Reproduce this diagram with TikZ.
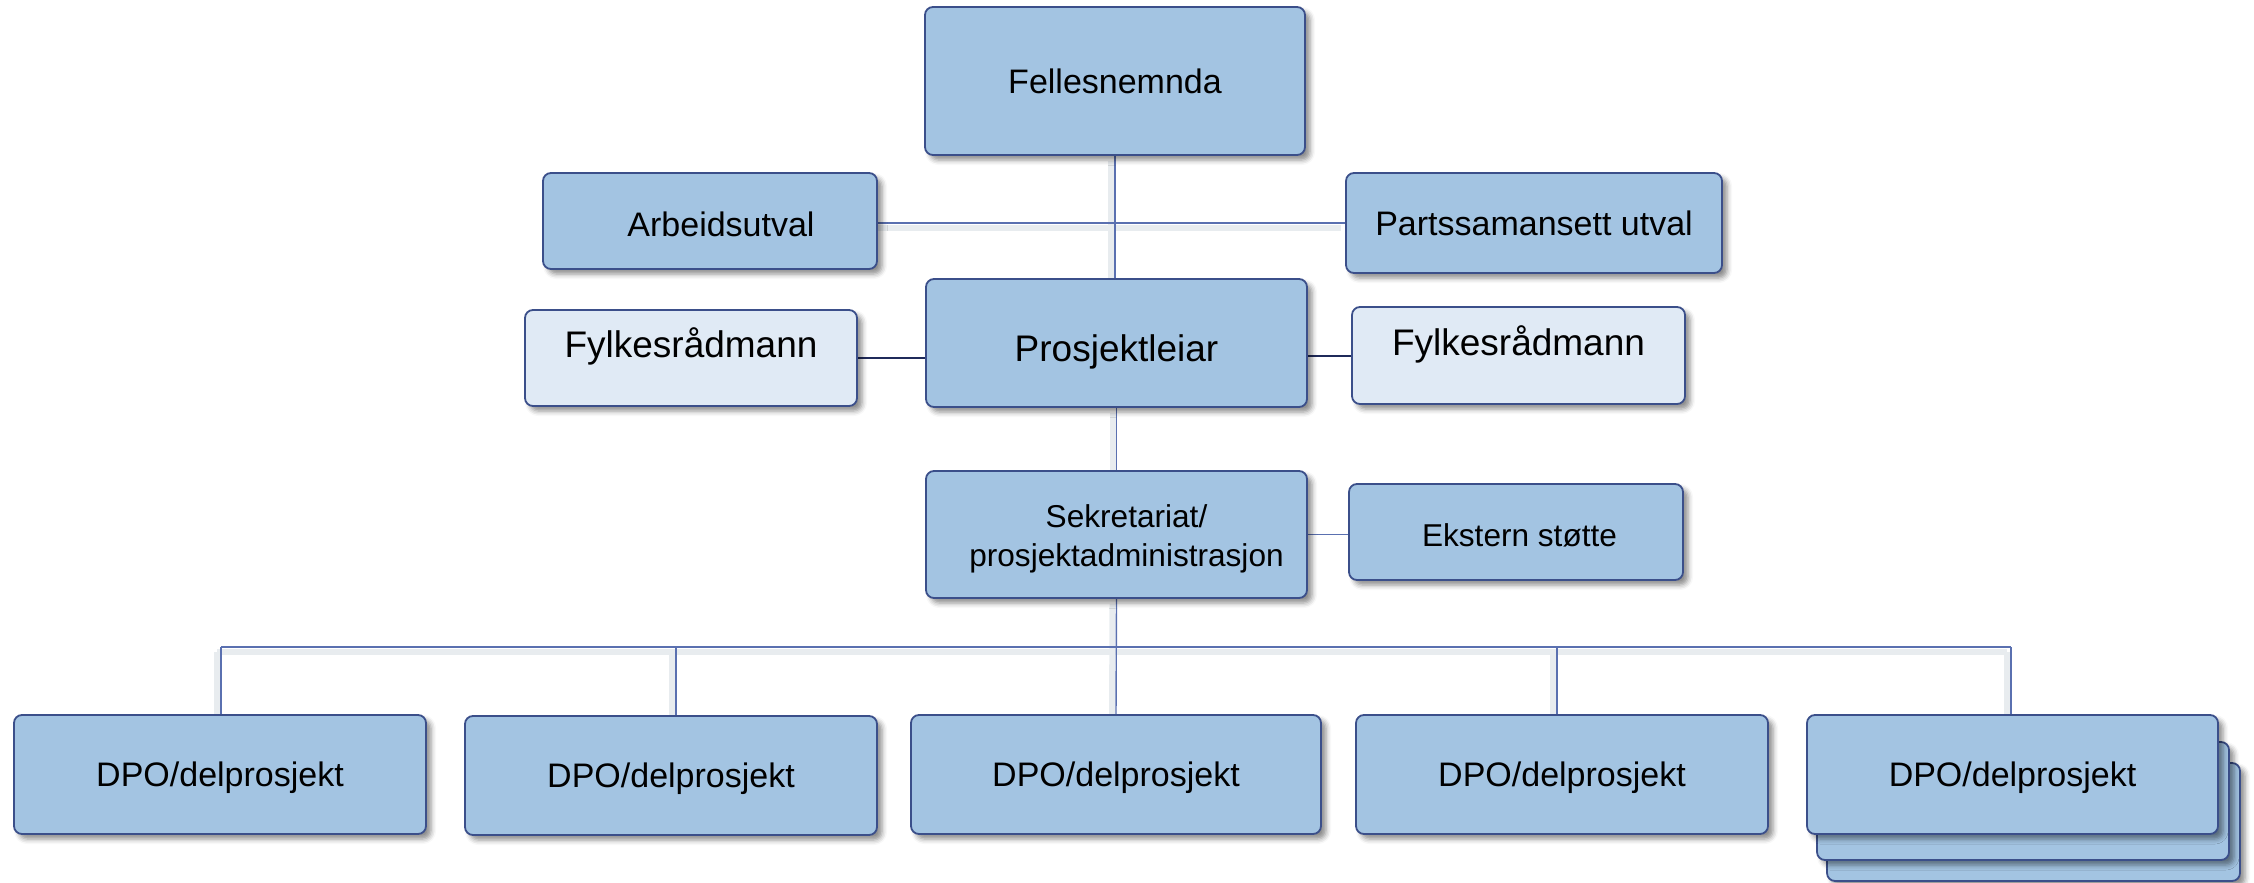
\documentclass[tikz,border=0pt]{standalone}
\usepackage{fontspec}
\setmainfont{Liberation Sans}
\usetikzlibrary{shadows.blur,backgrounds}
\definecolor{boxfill}{HTML}{A3C4E2}
\definecolor{lightfill}{HTML}{E0EAF5}
\definecolor{boxline}{HTML}{3B4F8A}
\definecolor{conn}{HTML}{5A70B0}
\definecolor{darkconn}{HTML}{1F2A5A}
\definecolor{lshad}{HTML}{E8ECEF}
\tikzset{
  box/.style={draw=boxline, fill=boxfill, line width=0.9pt, rounded corners=4pt, inner sep=0pt,
    blur shadow={shadow xshift=2.5pt, shadow yshift=-2.5pt, shadow blur radius=2.5pt, shadow opacity=45}},
  lightbox/.style={box, fill=lightfill},
  sz/.style 2 args={minimum width=#1*0.5pt, minimum height=#2*0.5pt},
  fA/.style={font=\fontsize{17pt}{20.4pt}\selectfont, text height=12.2pt, text depth=0pt},
  fC/.style={font=\fontsize{18.5pt}{22.2pt}\selectfont, text height=13.2pt, text depth=0pt},
  fD/.style={font=\fontsize{15.8pt}{19.5pt}\selectfont, text height=11.3pt, text depth=0pt},
  cline/.style={draw=conn, line width=0.7pt},
  dline/.style={draw=darkconn, line width=1pt},
  lsh/.style={draw=lshad, line width=3pt, transform canvas={shift={(-2pt,-2.5pt)}}}
}
\begin{document}
\begin{tikzpicture}[x=0.5pt,y=-0.5pt]
\useasboundingbox (0,0) rectangle (2254,883);

% boxes
\node[box,fA,sz={380}{148}] (fel) at (1115,81) {Fellesnemnda};
\node[box,fA,sz={334}{96}] (arb) at (710,221) {\hspace*{11pt}\raisebox{-1.8pt}{Arbeidsutval}};
\node[box,fA,sz={376}{100}] (par) at (1534,223) {Partssamansett utval};
\node[lightbox,fC,sz={332}{96}] (fyl1) at (691,358) {\raisebox{7pt}{Fylkesrådmann}};
\node[box,fC,sz={381}{128}] (pro) at (1116.5,343) {\raisebox{-2.75pt}{Prosjektleiar}};
\node[lightbox,fC,sz={333}{97}] (fyl2) at (1518.5,355.5) {\raisebox{6.75pt}{Fylkesrådmann}};
\node[box,fD,align=center,text height=31.5pt,text depth=0pt,sz={381}{127}] (sek) at (1116.5,534.5)
  {\hspace*{10pt}Sekretariat/\\\hspace*{10pt}prosjektadministrasjon};
\node[box,fD,sz={334}{96}] (eks) at (1516,532) {\hspace*{3.5pt}\raisebox{-1.75pt}{Ekstern støtte}};

\node[box,fA,sz={412}{119}] (d1) at (220,774.5) {DPO/delprosjekt};
\node[box,fA,sz={412}{119}] (d2) at (671,775.5) {DPO/delprosjekt};
\node[box,fA,sz={410}{119}] (d3) at (1116,774.5) {DPO/delprosjekt};
\node[box,fA,sz={412}{119}] (d4) at (1562,774.5) {DPO/delprosjekt};
\node[box,sz={413}{118}] (d5c) at (2033.5,822) {};
\node[box,sz={412}{118}] (d5b) at (2023,801) {};
\node[box,fA,sz={411}{119}] (d5) at (2012.5,774.5) {DPO/delprosjekt};

\coordinate (b1) at (221,647);
\coordinate (b2) at (676,647);
\coordinate (b4) at (1557,647);
\coordinate (b5) at (2011,647);

\begin{scope}[on background layer]
  % soft shadows of the connectors
  \draw[lsh] (fel.south) -- (fel.south |- pro.north);
  \draw[lsh] (arb.east |- par.west) -- (par.west);
  \draw[lsh] (pro.south) -- (sek.north);
  \draw[lsh] (sek.south) -- (d3.north);
  \draw[lsh] (b1) -- (b5);
  \draw[lsh] (b1) -- (b1 |- d1.north);
  \draw[lsh] (b2) -- (b2 |- d2.north);
  \draw[lsh] (b4) -- (b4 |- d4.north);
  \draw[lsh] (b5) -- (b5 |- d5.north);
  % connectors
  \draw[cline] (fel.south) -- (fel.south |- pro.north);
  \draw[cline] (arb.east |- par.west) -- (par.west);
  \draw[dline] (fyl1.east) -- (fyl1.east -| pro.west);
  \draw[dline] (pro.east |- fyl2.west) -- (fyl2.west);
  \draw[cline] (pro.south) -- (sek.north);
  \draw[cline] (sek.east) -- (sek.east -| eks.west);
  \draw[cline] (sek.south) -- (d3.north);
  \draw[cline] (b1) -- (b5);
  \draw[cline] (b1) -- (b1 |- d1.north);
  \draw[cline] (b2) -- (b2 |- d2.north);
  \draw[cline] (b4) -- (b4 |- d4.north);
  \draw[cline] (b5) -- (b5 |- d5.north);
\end{scope}
\end{tikzpicture}
\end{document}
